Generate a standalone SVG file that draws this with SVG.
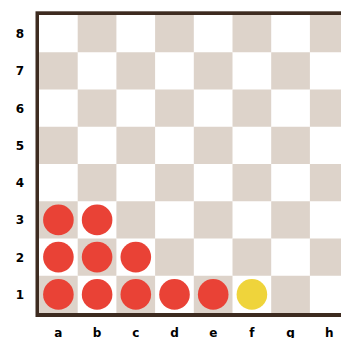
<svg xmlns="http://www.w3.org/2000/svg" width="341" height="338" viewBox="0 0 341 338">
<style>
.d{fill:#ddd3ca}
.l{fill:#ffffff}
.red{fill:#e94236}
.yel{fill:#efd43b}
text{font-family:"DejaVu Sans","Liberation Sans",sans-serif;font-weight:bold;font-size:12px;fill:#000;text-anchor:middle}
</style>
<rect width="341" height="338" fill="#ffffff"/>
<g id="board">
<rect x="35.5" y="11.3" width="320" height="305.7" fill="#3d2b20"/>
<rect x="39" y="15" width="320" height="298" fill="#ffffff"/>
<g class="d">
<rect x="77.7" y="15" width="38.7" height="37.25"/>
<rect x="155.1" y="15" width="38.7" height="37.25"/>
<rect x="232.5" y="15" width="38.7" height="37.25"/>
<rect x="309.9" y="15" width="38.7" height="37.25"/>
<rect x="39" y="52.25" width="38.7" height="37.25"/>
<rect x="116.4" y="52.25" width="38.7" height="37.25"/>
<rect x="193.8" y="52.25" width="38.7" height="37.25"/>
<rect x="271.2" y="52.25" width="38.7" height="37.25"/>
<rect x="77.7" y="89.5" width="38.7" height="37.25"/>
<rect x="155.1" y="89.5" width="38.7" height="37.25"/>
<rect x="232.5" y="89.5" width="38.7" height="37.25"/>
<rect x="309.9" y="89.5" width="38.7" height="37.25"/>
<rect x="39" y="126.75" width="38.7" height="37.25"/>
<rect x="116.4" y="126.75" width="38.7" height="37.25"/>
<rect x="193.8" y="126.75" width="38.7" height="37.25"/>
<rect x="271.2" y="126.75" width="38.7" height="37.25"/>
<rect x="77.7" y="164" width="38.7" height="37.25"/>
<rect x="155.1" y="164" width="38.7" height="37.25"/>
<rect x="232.5" y="164" width="38.7" height="37.25"/>
<rect x="309.9" y="164" width="38.7" height="37.25"/>
<rect x="39" y="201.25" width="38.7" height="37.25"/>
<rect x="116.4" y="201.25" width="38.7" height="37.25"/>
<rect x="193.8" y="201.25" width="38.7" height="37.25"/>
<rect x="271.2" y="201.25" width="38.7" height="37.25"/>
<rect x="77.7" y="238.5" width="38.7" height="37.25"/>
<rect x="155.1" y="238.5" width="38.7" height="37.25"/>
<rect x="232.5" y="238.5" width="38.7" height="37.25"/>
<rect x="309.9" y="238.5" width="38.7" height="37.25"/>
<rect x="39" y="275.75" width="38.7" height="37.25"/>
<rect x="116.4" y="275.75" width="38.7" height="37.25"/>
<rect x="193.8" y="275.75" width="38.7" height="37.25"/>
<rect x="271.2" y="275.75" width="38.7" height="37.25"/>
</g>
</g>
<g id="pieces">
<circle class="red" cx="58.4" cy="294.4" r="15.3"/>
<circle class="red" cx="97.1" cy="294.4" r="15.3"/>
<circle class="red" cx="135.8" cy="294.4" r="15.3"/>
<circle class="red" cx="174.5" cy="294.4" r="15.3"/>
<circle class="red" cx="213.2" cy="294.4" r="15.3"/>
<circle class="yel" cx="251.9" cy="294.4" r="15.3"/>
<circle class="red" cx="58.4" cy="257.1" r="15.3"/>
<circle class="red" cx="97.1" cy="257.1" r="15.3"/>
<circle class="red" cx="135.8" cy="257.1" r="15.3"/>
<circle class="red" cx="58.4" cy="219.9" r="15.3"/>
<circle class="red" cx="97.1" cy="219.9" r="15.3"/>
</g>
<g id="ranks">
<text x="20" y="38">8</text>
<text x="20" y="75.2">7</text>
<text x="20" y="112.5">6</text>
<text x="20" y="149.7">5</text>
<text x="20" y="187">4</text>
<text x="20" y="224.2">3</text>
<text x="20" y="261.5">2</text>
<text x="20" y="298.7">1</text>
</g>
<g id="files">
<text x="58.4" y="337">a</text>
<text x="97.1" y="337">b</text>
<text x="135.8" y="337">c</text>
<text x="174.5" y="337">d</text>
<text x="213.2" y="337">e</text>
<text x="251.9" y="337">f</text>
<text x="290.6" y="337">g</text>
<text x="329.3" y="337">h</text>
</g>
</svg>
